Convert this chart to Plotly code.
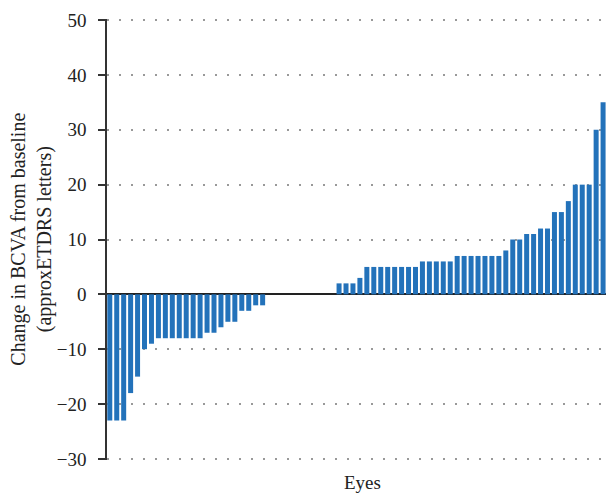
import plotly.graph_objects as go

negative_changes = [-23, -23, -23, -18, -15, -10, -9, -8, -8, -8, -8, -8, -8, -8,
                    -7, -7, -6, -5, -5, -3, -3, -2, -2]
zero_changes = [0, 0, 0, 0, 0, 0, 0, 0, 0, 0]
positive_changes = [2, 2, 2, 3, 5, 5, 5, 5, 5, 5, 5, 5, 6, 6, 6, 6, 6,
                    7, 7, 7, 7, 7, 7, 7, 8, 10, 10, 11, 11, 12, 12, 15, 15, 17,
                    20, 20, 20, 30, 35]
values = negative_changes + zero_changes + positive_changes
eyes = list(range(1, len(values) + 1))
y_ticks = [-30, -20, -10, 0, 10, 20, 30, 40, 50]
y_tick_labels = ["\u221230", "\u221220", "\u221210", "0", "10", "20", "30", "40", "50"]

font_family = "Liberation Serif, Times New Roman, serif"

fig = go.Figure(go.Bar(x=eyes, y=values, marker_color="#2372BA",
                       marker_line_width=0, width=0.72))

fig.update_layout(
    width=606, height=494,
    margin=dict(l=107, r=0, t=19, b=34),
    plot_bgcolor="white", paper_bgcolor="white",
    showlegend=False,
    font=dict(family=font_family, size=19, color="#222"),
    xaxis=dict(range=[0.6, len(values) + 0.42], showticklabels=False, ticks="",
               showgrid=False, zeroline=False, showline=False, fixedrange=True),
    yaxis=dict(range=[-30.2, 50.2], tickvals=y_ticks, ticktext=y_tick_labels,
               ticks="outside", ticklen=7, tickwidth=1.5, tickcolor="#333",
               ticklabelstandoff=8,
               showline=True, linecolor="#333", linewidth=1.5,
               showgrid=True, gridcolor="#999", gridwidth=1.5, griddash="1.5px,10.5px",
               zeroline=True, zerolinecolor="#222", zerolinewidth=2),
    annotations=[
        dict(text="Change in BCVA from baseline<br>(approxETDRS letters)",
             xref="paper", yref="paper", x=-0.152, y=0.5, textangle=-90,
             showarrow=False, xanchor="center", yanchor="middle",
             font=dict(size=20, family=font_family, color="#222")),
        dict(text="Eyes", xref="paper", yref="paper", x=0.512, y=-0.05,
             showarrow=False, xanchor="center", yanchor="middle",
             font=dict(size=19, family=font_family, color="#222")),
    ],
)

fig.write_html("out.html", config={"displayModeBar": False},
               post_script="document.body.style.margin='0px';document.body.style.overflow='hidden';")
